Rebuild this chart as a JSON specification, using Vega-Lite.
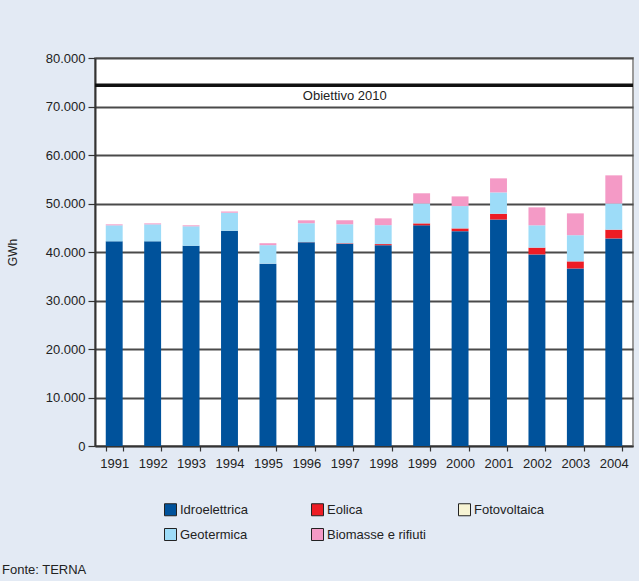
{
  "$schema": "https://vega.github.io/schema/vega-lite/v6.json",
  "width": 538,
  "height": 388,
  "autosize": {"type": "none"},
  "padding": {"left": 95, "top": 58, "right": 6, "bottom": 135},
  "background": "#e3eaf4",
  "config": {
    "font": "Liberation Sans",
    "view": {"fill": "white", "stroke": "#9a9a9a", "strokeWidth": 2}
  },
  "title": {
    "text": "Fonte: TERNA",
    "orient": "bottom",
    "anchor": "start",
    "frame": "group",
    "dx": -93,
    "offset": 21,
    "fontSize": 13,
    "fontWeight": "normal",
    "color": "#222"
  },
  "data": {
    "values": [
      {"year": "1991", "source": "Idroelettrica", "ord": 1, "value": 42200},
      {"year": "1991", "source": "Eolica", "ord": 2, "value": 0},
      {"year": "1991", "source": "Fotovoltaica", "ord": 3, "value": 0},
      {"year": "1991", "source": "Geotermica", "ord": 4, "value": 3300},
      {"year": "1991", "source": "Biomasse e rifiuti", "ord": 5, "value": 200},
      {"year": "1992", "source": "Idroelettrica", "ord": 1, "value": 42200},
      {"year": "1992", "source": "Eolica", "ord": 2, "value": 0},
      {"year": "1992", "source": "Fotovoltaica", "ord": 3, "value": 0},
      {"year": "1992", "source": "Geotermica", "ord": 4, "value": 3500},
      {"year": "1992", "source": "Biomasse e rifiuti", "ord": 5, "value": 200},
      {"year": "1993", "source": "Idroelettrica", "ord": 1, "value": 41300},
      {"year": "1993", "source": "Eolica", "ord": 2, "value": 0},
      {"year": "1993", "source": "Fotovoltaica", "ord": 3, "value": 0},
      {"year": "1993", "source": "Geotermica", "ord": 4, "value": 4000},
      {"year": "1993", "source": "Biomasse e rifiuti", "ord": 5, "value": 200},
      {"year": "1994", "source": "Idroelettrica", "ord": 1, "value": 44400},
      {"year": "1994", "source": "Eolica", "ord": 2, "value": 0},
      {"year": "1994", "source": "Fotovoltaica", "ord": 3, "value": 0},
      {"year": "1994", "source": "Geotermica", "ord": 4, "value": 3700},
      {"year": "1994", "source": "Biomasse e rifiuti", "ord": 5, "value": 250},
      {"year": "1995", "source": "Idroelettrica", "ord": 1, "value": 37600},
      {"year": "1995", "source": "Eolica", "ord": 2, "value": 10},
      {"year": "1995", "source": "Fotovoltaica", "ord": 3, "value": 0},
      {"year": "1995", "source": "Geotermica", "ord": 4, "value": 3800},
      {"year": "1995", "source": "Biomasse e rifiuti", "ord": 5, "value": 400},
      {"year": "1996", "source": "Idroelettrica", "ord": 1, "value": 42000},
      {"year": "1996", "source": "Eolica", "ord": 2, "value": 30},
      {"year": "1996", "source": "Fotovoltaica", "ord": 3, "value": 5},
      {"year": "1996", "source": "Geotermica", "ord": 4, "value": 3900},
      {"year": "1996", "source": "Biomasse e rifiuti", "ord": 5, "value": 600},
      {"year": "1997", "source": "Idroelettrica", "ord": 1, "value": 41700},
      {"year": "1997", "source": "Eolica", "ord": 2, "value": 120},
      {"year": "1997", "source": "Fotovoltaica", "ord": 3, "value": 5},
      {"year": "1997", "source": "Geotermica", "ord": 4, "value": 3900},
      {"year": "1997", "source": "Biomasse e rifiuti", "ord": 5, "value": 800},
      {"year": "1998", "source": "Idroelettrica", "ord": 1, "value": 41400},
      {"year": "1998", "source": "Eolica", "ord": 2, "value": 230},
      {"year": "1998", "source": "Fotovoltaica", "ord": 3, "value": 6},
      {"year": "1998", "source": "Geotermica", "ord": 4, "value": 3900},
      {"year": "1998", "source": "Biomasse e rifiuti", "ord": 5, "value": 1400},
      {"year": "1999", "source": "Idroelettrica", "ord": 1, "value": 45500},
      {"year": "1999", "source": "Eolica", "ord": 2, "value": 400},
      {"year": "1999", "source": "Fotovoltaica", "ord": 3, "value": 6},
      {"year": "1999", "source": "Geotermica", "ord": 4, "value": 4100},
      {"year": "1999", "source": "Biomasse e rifiuti", "ord": 5, "value": 2100},
      {"year": "2000", "source": "Idroelettrica", "ord": 1, "value": 44300},
      {"year": "2000", "source": "Eolica", "ord": 2, "value": 560},
      {"year": "2000", "source": "Fotovoltaica", "ord": 3, "value": 6},
      {"year": "2000", "source": "Geotermica", "ord": 4, "value": 4600},
      {"year": "2000", "source": "Biomasse e rifiuti", "ord": 5, "value": 2000},
      {"year": "2001", "source": "Idroelettrica", "ord": 1, "value": 46700},
      {"year": "2001", "source": "Eolica", "ord": 2, "value": 1180},
      {"year": "2001", "source": "Fotovoltaica", "ord": 3, "value": 5},
      {"year": "2001", "source": "Geotermica", "ord": 4, "value": 4400},
      {"year": "2001", "source": "Biomasse e rifiuti", "ord": 5, "value": 2900},
      {"year": "2002", "source": "Idroelettrica", "ord": 1, "value": 39500},
      {"year": "2002", "source": "Eolica", "ord": 2, "value": 1400},
      {"year": "2002", "source": "Fotovoltaica", "ord": 3, "value": 4},
      {"year": "2002", "source": "Geotermica", "ord": 4, "value": 4600},
      {"year": "2002", "source": "Biomasse e rifiuti", "ord": 5, "value": 3700},
      {"year": "2003", "source": "Idroelettrica", "ord": 1, "value": 36600},
      {"year": "2003", "source": "Eolica", "ord": 2, "value": 1460},
      {"year": "2003", "source": "Fotovoltaica", "ord": 3, "value": 5},
      {"year": "2003", "source": "Geotermica", "ord": 4, "value": 5400},
      {"year": "2003", "source": "Biomasse e rifiuti", "ord": 5, "value": 4500},
      {"year": "2004", "source": "Idroelettrica", "ord": 1, "value": 42800},
      {"year": "2004", "source": "Eolica", "ord": 2, "value": 1800},
      {"year": "2004", "source": "Fotovoltaica", "ord": 3, "value": 4},
      {"year": "2004", "source": "Geotermica", "ord": 4, "value": 5400},
      {"year": "2004", "source": "Biomasse e rifiuti", "ord": 5, "value": 5800}
    ]
  },
  "layer": [
    {
      "mark": {"type": "bar"},
      "encoding": {
        "x": {
          "field": "year",
          "type": "ordinal",
          "scale": {"paddingInner": 0.56, "paddingOuter": 0.28},
          "axis": {
            "title": null,
            "tickBand": "extent",
            "labelAngle": 0,
            "domainColor": "#333",
            "domainWidth": 1.5,
            "tickColor": "#333",
            "tickWidth": 1.2,
            "tickSize": 5,
            "labelFontSize": 13,
            "labelColor": "#222",
            "labelPadding": 6
          }
        },
        "y": {
          "field": "value",
          "type": "quantitative",
          "stack": "zero",
          "scale": {"domain": [0, 80000], "nice": false},
          "axis": {
            "title": "GWh",
            "values": [0, 10000, 20000, 30000, 40000, 50000, 60000, 70000, 80000],
            "labelExpr": "replace(format(datum.value, ',d'), ',', '.')",
            "grid": true,
            "gridColor": "#4a4a4a",
            "gridWidth": 2,
            "domainColor": "#333",
            "domainWidth": 2,
            "tickColor": "#333",
            "tickWidth": 1.2,
            "tickSize": 7,
            "labelPadding": 3,
            "labelFontSize": 13,
            "labelColor": "#222",
            "titleFontSize": 12,
            "titleFontWeight": "normal",
            "titleColor": "#222",
            "titlePadding": 26
          }
        },
        "color": {
          "field": "source",
          "type": "nominal",
          "scale": {
            "domain": ["Idroelettrica", "Eolica", "Fotovoltaica", "Geotermica", "Biomasse e rifiuti"],
            "range": ["#00529b", "#ed1c24", "#f7f4d4", "#9ddcf8", "#f49ac6"]
          },
          "legend": {
            "orient": "none",
            "legendX": 69,
            "legendY": 445,
            "columns": 3,
            "direction": "horizontal",
            "title": null,
            "gridAlign": "all",
            "columnPadding": 30,
            "rowPadding": 8,
            "symbolType": "square",
            "symbolSize": 144,
            "symbolStrokeColor": "#222",
            "symbolStrokeWidth": 1,
            "labelFontSize": 13,
            "labelColor": "#222",
            "labelOffset": 3
          }
        },
        "order": {"field": "ord", "type": "quantitative"}
      }
    },
    {
      "data": {"values": [{"target": 74400, "label": "Obiettivo 2010", "year": "1997"}]},
      "mark": {"type": "rule", "strokeWidth": 3.5, "color": "#111"},
      "encoding": {
        "y": {"field": "target", "type": "quantitative"}
      }
    },
    {
      "data": {"values": [{"target": 74400, "label": "Obiettivo 2010", "year": "1997"}]},
      "mark": {"type": "text", "baseline": "top", "dy": 5, "fontSize": 13, "color": "#222"},
      "encoding": {
        "x": {"field": "year", "type": "ordinal"},
        "y": {"field": "target", "type": "quantitative"},
        "text": {"field": "label"}
      }
    }
  ]
}
